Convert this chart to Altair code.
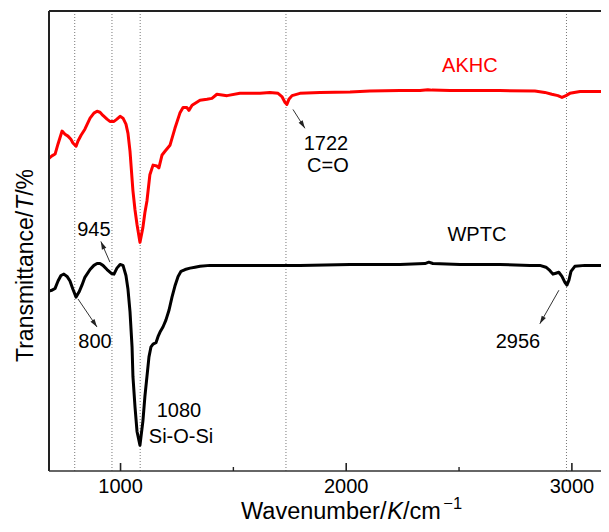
import math
import altair as alt
import pandas as pd

# ---- data ----
akhc_wn = [683, 696, 710, 723, 741, 754, 767, 780, 789, 803, 811, 825, 842, 865, 882, 896, 909, 922, 940, 953,
           971, 984, 998, 1011, 1024, 1033, 1042, 1055, 1064, 1073, 1086, 1099, 1108, 1117, 1130, 1144, 1161, 1170,
           1184, 1197, 1219, 1241, 1263, 1277, 1294, 1303, 1317, 1352, 1383, 1405, 1427, 1472, 1529, 1573, 1618,
           1662, 1698, 1715, 1729, 1737, 1746, 1760, 1795, 1884, 2017, 2105, 2238, 2327, 2362, 2380, 2460, 2681,
           2836, 2880, 2911, 2938, 2956, 2974, 2991, 3036, 3160]
akhc_t = [68.0, 68.5, 68.9, 71.1, 73.9, 73.2, 72.8, 72.1, 71.3, 70.6, 71.7, 73.0, 74.3, 76.7, 77.8, 78.2, 78.0, 77.3,
          76.5, 76.0, 76.0, 76.5, 77.1, 76.7, 75.4, 73.4, 69.5, 60.9, 56.8, 53.6, 49.7, 52.9, 56.2, 58.7, 64.4, 66.5,
          66.3, 65.9, 68.7, 69.5, 70.8, 74.5, 77.8, 79.0, 79.0, 78.4, 79.5, 80.6, 80.8, 81.0, 81.9, 81.6, 82.1, 82.1,
          82.1, 82.3, 82.1, 81.4, 80.1, 79.7, 80.8, 81.6, 82.1, 82.3, 82.4, 82.6, 82.7, 82.7, 82.9, 82.8, 82.7, 82.7,
          82.6, 82.3, 81.9, 81.6, 81.2, 81.6, 82.1, 82.5, 82.5]

wptc_wn = [683, 696, 710, 723, 736, 749, 763, 776, 789, 803, 816, 829, 842, 865, 882, 896, 909, 922, 940, 958,
           971, 984, 998, 1011, 1024, 1033, 1042, 1051, 1055, 1064, 1073, 1086, 1099, 1108, 1117, 1126, 1135, 1144,
           1157, 1166, 1175, 1188, 1201, 1215, 1228, 1241, 1255, 1268, 1286, 1308, 1330, 1352, 1396, 1618, 1795,
           2017, 2238, 2349, 2366, 2384, 2504, 2681, 2814, 2858, 2885, 2902, 2916, 2929, 2942, 2956, 2969, 2978,
           2987, 2996, 3013, 3058, 3160]
wptc_t = [39.1, 39.3, 39.7, 41.3, 42.5, 42.8, 42.3, 41.3, 39.5, 37.8, 38.9, 40.4, 42.1, 43.8, 44.7, 45.1, 45.1, 44.7,
          43.8, 43.0, 42.8, 44.1, 44.9, 44.7, 42.5, 39.5, 34.6, 27.0, 20.5, 14.0, 8.6, 5.6, 10.8, 16.2, 20.5, 24.8,
          27.0, 27.6, 27.9, 29.2, 30.2, 31.3, 32.8, 35.0, 37.8, 40.2, 42.3, 43.4, 43.8, 44.1, 44.3, 44.5, 44.7, 44.7,
          44.7, 44.9, 44.9, 45.1, 45.4, 45.1, 44.9, 44.9, 44.7, 44.7, 44.3, 43.6, 42.8, 43.0, 43.2, 42.3, 41.0, 40.4,
          41.5, 43.4, 44.5, 44.7, 44.7]

peak_wn = [797, 962, 1087, 1733, 2976]
major_ticks = [1000, 2000, 3000]
major_labels = ["1000", "2000", "3000"]
minor_ticks = [1500, 2500]

ann_text = ["AKHC", "WPTC", "1722", "C=O", "945", "800", "1080", "Si-O-Si", "2956"]
ann_wn = [2548, 2579, 1910, 1919, 882, 887, 1259, 1268, 2761]
ann_t = [88.1, 51.2, 71.1, 66.3, 52.5, 28.1, 13.0, 7.3, 28.1]
ann_color = ["#ff0000", "#000000", "#000000", "#000000", "#000000", "#000000", "#000000", "#000000", "#000000"]

arrow_wn1 = [1764, 953, 811.5, 2942.5]
arrow_t1 = [78.6, 45.4, 37.4, 39.3]
arrow_wn2 = [1817, 913, 895.7, 2858]
arrow_t2 = [74.5, 49.9, 31.3, 32.0]

# ---- layout / style ----
X_DOMAIN = [683, 3129]
Y_DOMAIN = [0, 100]
W, H = 552, 460
FONT = "Liberation Sans"

xs = alt.Scale(domain=X_DOMAIN, nice=False, zero=False)
ys = alt.Scale(domain=Y_DOMAIN, nice=False, zero=False)

spec = pd.DataFrame(
    {"wn": akhc_wn + wptc_wn,
     "t": akhc_t + wptc_t,
     "series": ["AKHC"] * len(akhc_wn) + ["WPTC"] * len(wptc_wn)}
)

one = pd.DataFrame({"k": [0]})

# arrow angles in screen space
px_per_x = W / (X_DOMAIN[1] - X_DOMAIN[0])
px_per_y = H / (Y_DOMAIN[1] - Y_DOMAIN[0])
angs = []
for a, b, c, d in zip(arrow_wn1, arrow_t1, arrow_wn2, arrow_t2):
    dx = (c - a) * px_per_x
    dy = -(d - b) * px_per_y
    angs.append(math.degrees(math.atan2(dx, -dy)) % 360)
arrows = pd.DataFrame({"w1": arrow_wn1, "t1": arrow_t1, "w2": arrow_wn2, "t2": arrow_t2, "ang": angs})

peaks = alt.Chart(pd.DataFrame({"wn": peak_wn})).mark_rule(
    color="#777777", strokeWidth=1, strokeDash=[1, 2]
).encode(x=alt.X("wn:Q", scale=xs, axis=None), y=alt.value(0), y2=alt.value(H))

lines = alt.Chart(spec).mark_line(strokeWidth=3, strokeJoin="round", strokeCap="round", clip=True).encode(
    x=alt.X("wn:Q", scale=xs, axis=None),
    y=alt.Y("t:Q", scale=ys, axis=None),
    color=alt.Color("series:N", scale=alt.Scale(domain=["AKHC", "WPTC"], range=["#ff0000", "#000000"]),
                    legend=None),
    detail="series:N",
    order="wn:Q",
)

frame_left = alt.Chart(one).mark_rule(color="#222222", strokeWidth=2).encode(
    x=alt.value(0), y=alt.value(0), y2=alt.value(H))
frame_top = alt.Chart(one).mark_rule(color="#222222", strokeWidth=2).encode(
    x=alt.value(0), x2=alt.value(W), y=alt.value(0))
frame_bottom = alt.Chart(one).mark_rule(color="#333333", strokeWidth=1.6).encode(
    x=alt.value(0), x2=alt.value(W), y=alt.value(H))

tmaj = alt.Chart(pd.DataFrame({"wn": major_ticks})).mark_rule(color="#222222", strokeWidth=1.6).encode(
    x=alt.X("wn:Q", scale=xs, axis=None), y=alt.value(H), y2=alt.value(H - 8))
tmin = alt.Chart(pd.DataFrame({"wn": minor_ticks})).mark_rule(color="#222222", strokeWidth=1.4).encode(
    x=alt.X("wn:Q", scale=xs, axis=None), y=alt.value(H), y2=alt.value(H - 4))
tlab = alt.Chart(pd.DataFrame({"wn": major_ticks, "lab": major_labels})).mark_text(
    font=FONT, fontSize=20, align="center", baseline="alphabetic", color="#000000"
).encode(x=alt.X("wn:Q", scale=xs, axis=None), y=alt.value(H + 22), text="lab:N")

arrow_lines = alt.Chart(arrows).mark_rule(color="#333333", strokeWidth=1).encode(
    x=alt.X("w1:Q", scale=xs, axis=None), y=alt.Y("t1:Q", scale=ys, axis=None),
    x2="w2:Q", y2="t2:Q")
arrow_heads = alt.Chart(arrows).mark_point(
    shape="M0,0L0.6,2L-0.6,2Z", filled=True, size=64, color="#222222", opacity=1, strokeWidth=0
).encode(x=alt.X("w2:Q", scale=xs, axis=None), y=alt.Y("t2:Q", scale=ys, axis=None),
         angle=alt.Angle("ang:Q", scale=None))

ann = alt.Chart(pd.DataFrame({"txt": ann_text, "wn": ann_wn, "t": ann_t, "col": ann_color})).mark_text(
    font=FONT, fontSize=20, align="center", baseline="middle"
).encode(x=alt.X("wn:Q", scale=xs, axis=None), y=alt.Y("t:Q", scale=ys, axis=None),
         text="txt:N", color=alt.Color("col:N", scale=None))


def label(txt, x, y, size=23, style="normal", angle=0, align="left"):
    kw = dict(text=txt, font=FONT, fontSize=size, fontStyle=style, align=align,
              baseline="alphabetic", color="#000000")
    if angle:
        kw["angle"] = angle
    return alt.Chart(one).mark_text(**kw).encode(x=alt.value(x), y=alt.value(y))


XT = 23.5
XB = 508
XL = 192
xt1 = label("Wavenumber/", XL, XB, XT)
xt2 = label("K", XL + 6.224 * XT, XB, XT, "italic")
xt3 = label("/cm", XL + 6.891 * XT, XB, XT)
xt4 = label("\u22121", XL + 8.502 * XT + 2.5, XB - 10, 16.5)

YT = 23
YB = 351
yt1 = label("Transmittance/", -16, YB, YT, angle=270)
yt2 = label("T", -16, YB - 6.613 * YT, YT, "italic", angle=270)
yt3 = label("/%", -16, YB - 7.224 * YT, YT, angle=270)

chart = alt.layer(
    peaks, lines, frame_left, frame_top, frame_bottom, tmaj, tmin, tlab,
    arrow_lines, arrow_heads, ann, xt1, xt2, xt3, xt4, yt1, yt2, yt3
).properties(
    width=W, height=H,
    padding={"left": 41, "top": 3, "right": 0, "bottom": 53},
    autosize=alt.AutoSizeParams(type="none"),
).configure_view(stroke=None)

chart.save("out.html", embed_options={"renderer": "svg", "actions": False})
